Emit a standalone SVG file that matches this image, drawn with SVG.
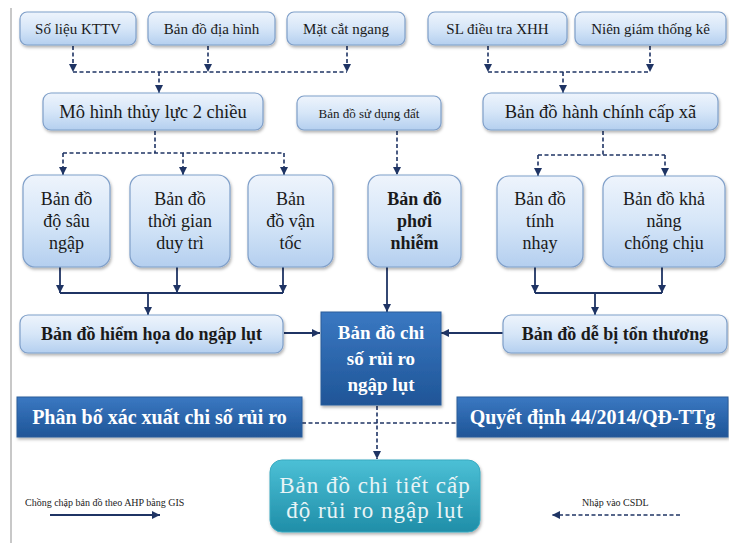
<svg xmlns="http://www.w3.org/2000/svg" width="729" height="543" viewBox="0 0 729 543">
<defs>
<linearGradient id="gLight" x1="0" y1="0" x2="0" y2="1">
<stop offset="0" stop-color="#eef4fc"/>
<stop offset="0.5" stop-color="#d6e6f8"/>
<stop offset="1" stop-color="#b4cfef"/>
</linearGradient>
<linearGradient id="gDark" x1="0" y1="0" x2="0" y2="1">
<stop offset="0" stop-color="#3a78c2"/>
<stop offset="1" stop-color="#1f5597"/>
</linearGradient>
<linearGradient id="gTeal" x1="0" y1="0" x2="0" y2="1">
<stop offset="0" stop-color="#4cc0d6"/>
<stop offset="1" stop-color="#1f8ea8"/>
</linearGradient>
<filter id="sh" x="-10%" y="-10%" width="130%" height="140%">
<feDropShadow dx="1" dy="2" stdDeviation="1.5" flood-color="#000" flood-opacity="0.3"/>
</filter>
<marker id="ah" viewBox="0 0 10 10" refX="10" refY="5" markerWidth="8" markerHeight="8" markerUnits="userSpaceOnUse" orient="auto">
<path d="M0,0 L10,5 L0,10 z" fill="#1f3464"/>
</marker>
</defs>
<style>
.lb{fill:url(#gLight);stroke:#7f9fc9;stroke-width:1.2;filter:url(#sh)}
.db{fill:url(#gDark);stroke:#2a5c9a;stroke-width:1;filter:url(#sh)}
.tb{fill:url(#gTeal);stroke:#38a9c0;stroke-width:1;filter:url(#sh)}
text{font-family:"Liberation Serif","Times New Roman",serif;text-anchor:middle;fill:#1a1a1a}
.t15{font-size:15px}
.t18{font-size:18.5px}
.t13{font-size:13px}
.t17{font-size:18px}
.b{font-weight:bold}
.w{fill:#ffffff}
.lg{font-size:10px;text-anchor:start;fill:#222}
.s{stroke:#1f3464;stroke-width:1.8;fill:none}
.d{stroke:#1f3464;stroke-width:1.6;fill:none;stroke-dasharray:4 2.5}
.ma{marker-end:url(#ah)}
</style>
<rect x="0" y="0" width="729" height="543" fill="#ffffff"/>
<line x1="11" y1="8" x2="11" y2="543" stroke="#c8c8c8" stroke-width="2"/>

<g id="connectors">
<line class="d ma" x1="73" y1="46" x2="73" y2="72"/>
<line class="d ma" x1="208" y1="46" x2="208" y2="72"/>
<line class="d ma" x1="347" y1="46" x2="347" y2="72"/>
<line class="d" x1="73" y1="72" x2="347" y2="72"/>
<line class="d ma" x1="159" y1="72" x2="159" y2="93"/>
<line class="d ma" x1="488" y1="46" x2="488" y2="72"/>
<line class="d ma" x1="650" y1="46" x2="650" y2="72"/>
<line class="d" x1="488" y1="72" x2="650" y2="72"/>
<line class="d ma" x1="563" y1="72" x2="563" y2="93"/>
<line class="d ma" x1="397" y1="131" x2="397" y2="175"/>
<line class="d" x1="155" y1="131" x2="155" y2="153"/>
<line class="d" x1="63" y1="153" x2="284" y2="153"/>
<line class="d ma" x1="63" y1="153" x2="63" y2="175"/>
<line class="d ma" x1="183" y1="153" x2="183" y2="175"/>
<line class="d ma" x1="284" y1="153" x2="284" y2="175"/>
<line class="d" x1="603" y1="131" x2="603" y2="155"/>
<line class="d" x1="538" y1="155" x2="665" y2="155"/>
<line class="d ma" x1="538" y1="155" x2="538" y2="176"/>
<line class="d ma" x1="665" y1="155" x2="665" y2="176"/>
<line class="s ma" x1="60" y1="267" x2="60" y2="293"/>
<line class="s ma" x1="177" y1="267" x2="177" y2="293"/>
<line class="s ma" x1="283" y1="267" x2="283" y2="293"/>
<line class="s" x1="60" y1="293" x2="283" y2="293"/>
<line class="s ma" x1="148" y1="293" x2="148" y2="315"/>
<line class="s ma" x1="535" y1="267" x2="535" y2="293"/>
<line class="s ma" x1="662" y1="267" x2="662" y2="293"/>
<line class="s" x1="535" y1="293" x2="662" y2="293"/>
<line class="s ma" x1="595" y1="293" x2="595" y2="315"/>
<line class="s ma" x1="387" y1="267" x2="387" y2="312"/>
<line class="s ma" x1="284" y1="333" x2="320" y2="333"/>
<line class="s ma" x1="503" y1="333" x2="441" y2="333"/>
<line class="d" x1="302" y1="423" x2="457" y2="423"/>
<line class="d ma" x1="377" y1="406" x2="377" y2="459"/>
</g>

<g id="n-sokttv"><rect class="lb" x="20" y="12" width="116" height="33" rx="7"/><text class="t15" x="78" y="33.5">Số liệu KTTV</text></g>
<g id="n-diahinh"><rect class="lb" x="148" y="12" width="127" height="33" rx="7"/><text class="t15" x="211.5" y="33.5">Bản đồ địa hình</text></g>
<g id="n-matcat"><rect class="lb" x="287" y="12" width="118" height="33" rx="7"/><text class="t15" x="346" y="33.5">Mặt cắt ngang</text></g>
<g id="n-slxhh"><rect class="lb" x="428" y="12" width="139" height="33" rx="7"/><text class="t15" x="497.5" y="33.5">SL điều tra XHH</text></g>
<g id="n-niengiam"><rect class="lb" x="575" y="12" width="151" height="33" rx="7"/><text class="t15" x="650.5" y="33.5">Niên giám thống kê</text></g>

<g id="n-mohinh"><rect class="lb" x="43" y="93" width="220" height="37" rx="8"/><text class="t18" x="153" y="118">Mô hình thủy lực 2 chiều</text></g>
<g id="n-sudungdat"><rect class="lb" x="297" y="96" width="144" height="34" rx="7"/><text class="t13" x="369" y="117.5">Bản đồ sử dụng đất</text></g>
<g id="n-hanhchinh"><rect class="lb" x="483" y="93" width="235" height="37" rx="8"/><text class="t18" x="600.5" y="118">Bản đồ hành chính cấp xã</text></g>

<g id="n-dosau"><rect class="lb" x="23" y="175" width="87" height="92" rx="12"/><text class="t17" x="66.5" y="205">Bản đồ</text><text class="t17" x="66.5" y="227">độ sâu</text><text class="t17" x="66.5" y="249">ngập</text></g>
<g id="n-thoigian"><rect class="lb" x="130" y="175" width="100" height="92" rx="12"/><text class="t17" x="180" y="205">Bản đồ</text><text class="t17" x="180" y="227">thời gian</text><text class="t17" x="180" y="249">duy trì</text></g>
<g id="n-vantoc"><rect class="lb" x="248" y="175" width="85" height="92" rx="12"/><text class="t17" x="290.5" y="205">Bản</text><text class="t17" x="290.5" y="227">đồ vận</text><text class="t17" x="290.5" y="249">tốc</text></g>
<g id="n-phoinhiem"><rect class="lb" x="368" y="175" width="93" height="92" rx="12"/><text class="t17 b" x="414.5" y="205">Bản đồ</text><text class="t17 b" x="414.5" y="227">phơi</text><text class="t17 b" x="414.5" y="249">nhiễm</text></g>
<g id="n-tinhnhay"><rect class="lb" x="497" y="176" width="86" height="91" rx="12"/><text class="t17" x="540" y="205">Bản đồ</text><text class="t17" x="540" y="227">tính</text><text class="t17" x="540" y="249">nhạy</text></g>
<g id="n-chongchiu"><rect class="lb" x="603" y="176" width="122" height="91" rx="12"/><text class="t17" x="664" y="205">Bản đồ khả</text><text class="t17" x="664" y="227">năng</text><text class="t17" x="664" y="249">chống chịu</text></g>

<g id="n-hiemhoa"><rect class="lb" x="20" y="315" width="263" height="38" rx="8"/><text class="t17 b" x="151.5" y="340">Bản đồ hiểm họa do ngập lụt</text></g>
<g id="n-chiso"><rect class="db" x="321" y="312" width="120" height="93"/><text class="b w" style="font-size:19px" x="381" y="339">Bản đồ chi</text><text class="b w" style="font-size:19px" x="381" y="365">số rủi ro</text><text class="b w" style="font-size:19px" x="381" y="391">ngập lụt</text></g>
<g id="n-debi"><rect class="lb" x="503" y="315" width="224" height="38" rx="8"/><text class="t17 b" x="615" y="340">Bản đồ dễ bị tổn thương</text></g>

<g id="n-phanbo"><rect class="db" x="17" y="397" width="285" height="40"/><text class="b w" style="font-size:20px" x="159.5" y="424">Phân bố xác xuất chi số rủi ro</text></g>
<g id="n-quyetdinh"><rect class="db" x="457" y="397" width="271" height="40"/><text class="b w" style="font-size:20px" x="592.5" y="424">Quyết định 44/2014/QĐ-TTg</text></g>

<g id="n-chitiet"><rect class="tb" x="270" y="460" width="210" height="72" rx="12"/><text class="w" style="font-size:23px;fill:#e8f4f6;letter-spacing:1px" x="375" y="493">Bản đồ chi tiết cấp</text><text class="w" style="font-size:23px;fill:#e8f4f6;letter-spacing:1px" x="375" y="518">độ rủi ro ngập lụt</text></g>

<g id="legend">
<text class="lg" x="25" y="506">Chồng chập bản đồ theo AHP bằng GIS</text>
<line class="s ma" x1="50" y1="515" x2="160" y2="515"/>
<text class="lg" x="582" y="506">Nhập vào CSDL</text>
<line class="d ma" x1="680" y1="515" x2="552" y2="515"/>
</g>
</svg>
